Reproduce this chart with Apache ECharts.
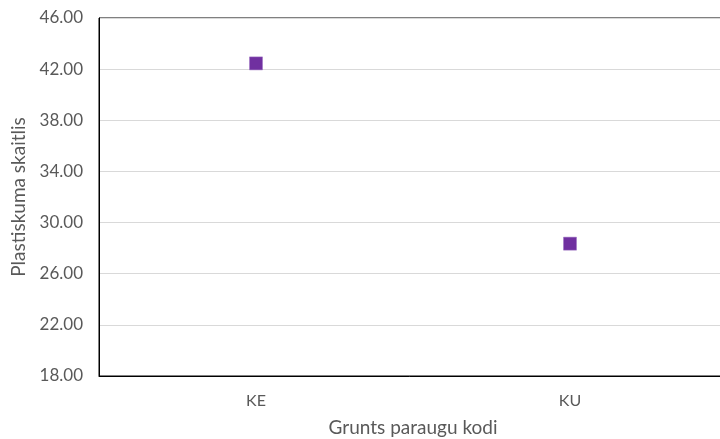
<!DOCTYPE html>
<html>
<head>
<meta charset="utf-8">
<script src="https://cdn.jsdelivr.net/npm/echarts@6/dist/echarts.min.js"></script>
<style>html,body{margin:0;padding:0;background:#fff}#c{width:720px;height:439px}</style>
</head>
<body>
<div id="c"></div>
<script>
const categories = ["KE", "KU"];
const values = [42.45, 28.35];
const yTicks = { min: 18, max: 46, interval: 4 };

const chart = echarts.init(document.getElementById('c'), null, { renderer: 'canvas' });
chart.setOption({
  animation: false,
  grid: { left: 99, top: 18, width: 628, height: 358, outerBoundsMode: 'none', containLabel: false, show: true, borderColor: '#000', borderWidth: 1, backgroundColor: 'transparent' },
  xAxis: {
    type: 'category',
    data: categories,
    boundaryGap: true,
    name: 'Grunts paraugu kodi',
    nameLocation: 'middle',
    nameGap: 42,
    nameTextStyle: { color: '#595959', fontSize: 19, fontFamily: 'Lato' },
    axisLine: { show: true, lineStyle: { color: '#000', width: 1 } },
    axisTick: { show: false },
    axisLabel: { color: '#595959', fontSize: 16, fontFamily: 'Lato', margin: 17 },
    splitLine: { show: false }
  },
  yAxis: {
    type: 'value',
    min: yTicks.min, max: yTicks.max, interval: yTicks.interval,
    name: 'Plastiskuma skaitlis',
    nameLocation: 'middle',
    nameGap: 62,
    nameTextStyle: { color: '#595959', fontSize: 19, fontFamily: 'Lato' },
    axisLine: { show: true, lineStyle: { color: '#000', width: 1 } },
    axisTick: { show: false },
    axisLabel: { color: '#595959', fontSize: 17, fontFamily: 'Lato', margin: 16, formatter: v => v.toFixed(2) },
    splitLine: { show: true, lineStyle: { color: '#d9d9d9', width: 1 } }
  },
  series: [{
    type: 'scatter',
    data: values,
    symbol: 'rect',
    symbolSize: 13,
    itemStyle: { color: '#7030a0', opacity: 1, borderColor: '#9a6fc0', borderWidth: 0.5 }
  }]
});
</script>
</body>
</html>
